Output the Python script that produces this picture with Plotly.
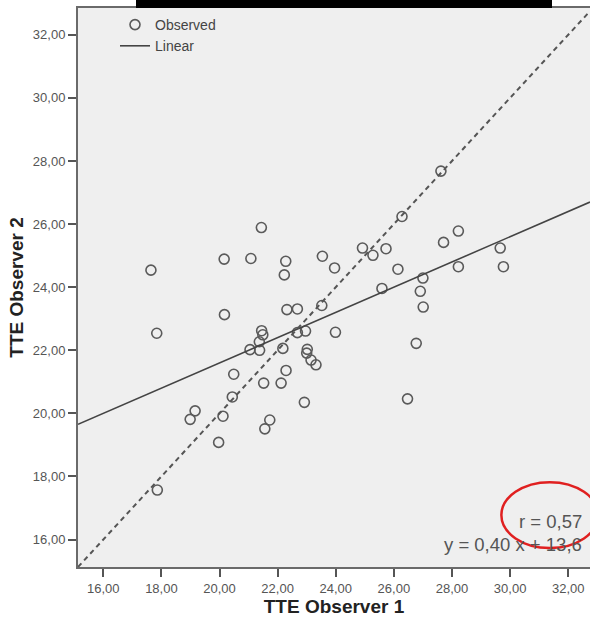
import numpy as np
import plotly.graph_objects as go

# ---- data ----
observer1 = [17.64, 17.84, 17.86, 19.16, 18.99, 19.97, 20.12, 20.44, 20.49, 20.16,
             20.17, 21.08, 21.44, 21.05, 21.38, 21.37, 21.45, 21.49, 21.52, 21.56,
             21.73, 22.28, 22.23, 22.32, 22.68, 22.12, 22.29, 22.18, 22.68, 22.96,
             23.02, 23.00, 23.15, 23.32, 22.92, 23.54, 23.52, 23.96, 23.99, 24.92,
             25.28, 25.73, 25.59, 26.14, 26.28, 26.47, 26.77, 26.91, 27.00, 27.01,
             27.62, 27.71, 28.22, 28.22, 29.66, 29.77]
observer2 = [24.54, 22.54, 17.57, 20.08, 19.81, 19.08, 19.91, 20.52, 21.24, 24.89,
             23.13, 24.91, 25.89, 22.02, 22.00, 22.27, 22.62, 22.49, 20.96, 19.51,
             19.79, 24.82, 24.39, 23.29, 23.31, 20.96, 21.36, 22.06, 22.56, 22.61,
             22.03, 21.91, 21.69, 21.54, 20.35, 24.98, 23.42, 24.61, 22.57, 25.24,
             25.01, 25.22, 23.96, 24.57, 26.24, 20.46, 22.22, 23.87, 24.29, 23.37,
             27.68, 25.42, 25.78, 24.65, 25.24, 24.65]
fit_slope = 0.40
fit_intercept = 13.6
r_value = "0,57"
equation_text = "y = 0,40 x + 13,6"
tick_values = [16, 18, 20, 22, 24, 26, 28, 30, 32]

X_RANGE = [15.13, 32.75]
Y_RANGE = [15.13, 32.85]

FONT = "Liberation Sans, Arial, sans-serif"
GREY = "#555555"

x_line = np.array(X_RANGE)

fig = go.Figure()
fig.add_trace(go.Scatter(
    x=observer1, y=observer2, mode="markers", name="Observed",
    marker=dict(symbol="circle-open", size=10, color="#5a5a5a",
                line=dict(width=1.6, color="#5a5a5a")),
))
fig.add_trace(go.Scatter(
    x=x_line, y=fit_slope * x_line + fit_intercept, mode="lines", name="Linear",
    line=dict(color="#444444", width=1.6),
))
fig.add_trace(go.Scatter(
    x=x_line, y=x_line, mode="lines", showlegend=False,
    line=dict(color="#555555", width=2, dash="5px,4px"),
))

# r annotation and equation
fig.add_annotation(x=1, xref="paper", y=16.57, yref="y", text="r = " + r_value,
                   showarrow=False, xanchor="right", xshift=-6,
                   font=dict(family=FONT, size=18.5, color=GREY))
fig.add_annotation(x=1, xref="paper", y=15.83, yref="y", text=equation_text,
                   showarrow=False, xanchor="right", xshift=-6,
                   font=dict(family=FONT, size=18.5, color=GREY))
# red circle
fig.add_shape(type="circle", xref="x", yref="y", x0=29.70, x1=33.03, y0=15.73, y1=17.82,
              line=dict(color="#e02020", width=2.5))
# black bar at the top (cropped banner)
fig.add_shape(type="rect", xref="paper", yref="paper",
              x0=(136 - 78) / 512, x1=(552 - 78) / 512, y0=1.0, y1=1.02,
              fillcolor="black", line=dict(width=0), layer="above")

axis_common = dict(
    tickmode="array", tickvals=tick_values, tickformat=".2f",
    ticks="outside", ticklen=8, tickwidth=1.5, tickcolor="#555555",
    showline=True, linecolor="#6a6a6a", linewidth=2,
    showgrid=False, zeroline=False,
    tickfont=dict(family=FONT, size=13, color="#555555"),
)

fig.update_layout(
    width=590, height=621,
    margin=dict(l=78, r=0, t=8, b=54),
    paper_bgcolor="white", plot_bgcolor="#efefef",
    separators=",.",
    font=dict(family=FONT),
    showlegend=True,
    legend=dict(x=(115 - 78) / 512, y=1.0 - 1 / 560, xanchor="left", yanchor="top",
                bgcolor="rgba(0,0,0,0)", borderwidth=0,
                font=dict(family=FONT, size=14, color="#444444"),
                itemwidth=30, tracegroupgap=0),
    xaxis=dict(range=X_RANGE, mirror=True,
               title=dict(text="<b>TTE Observer 1</b>", standoff=5,
                          font=dict(family=FONT, size=19, color="#222222")),
               **axis_common),
    yaxis=dict(range=Y_RANGE,
               title=dict(text="<b>TTE Observer 2</b>", standoff=4,
                          font=dict(family=FONT, size=19, color="#222222")),
               **axis_common),
)

fig.write_html("out.html", config={"displayModeBar": False},
               post_script="document.body.style.margin='0';")
